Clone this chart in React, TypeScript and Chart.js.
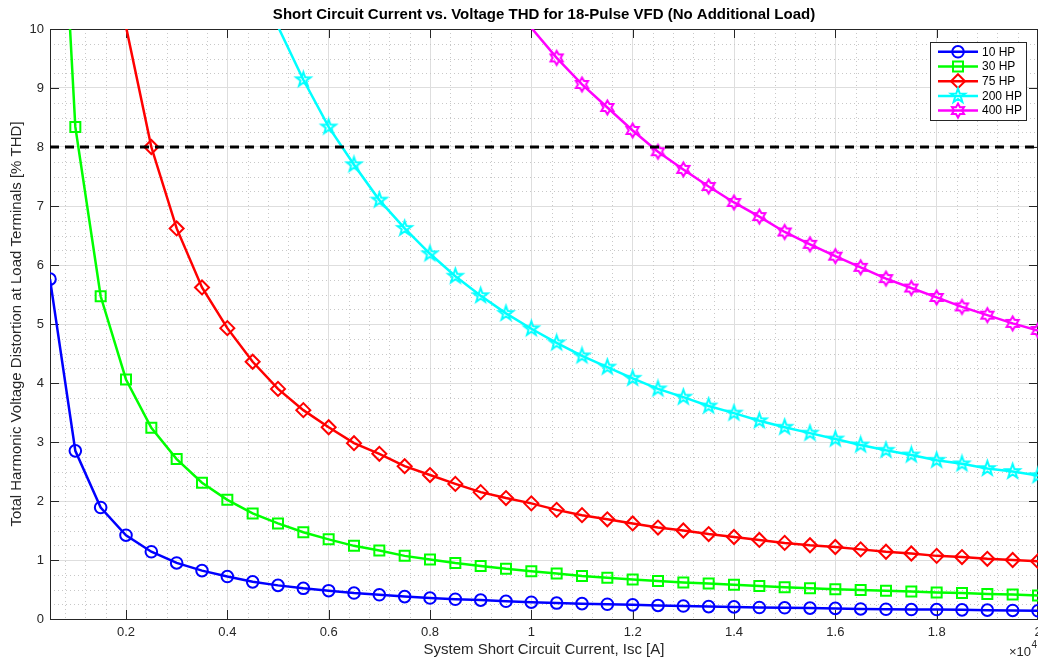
import React, { useEffect, useRef } from 'react';
import { Chart, registerables } from 'chart.js';

Chart.register(...registerables);

// ---------- data ----------
const ISC = [
  500, 1000, 1500, 2000, 2500, 3000, 3500, 4000, 4500, 5000,
  5500, 6000, 6500, 7000, 7500, 8000, 8500, 9000, 9500, 10000,
  10500, 11000, 11500, 12000, 12500, 13000, 13500, 14000, 14500, 15000,
  15500, 16000, 16500, 17000, 17500, 18000, 18500, 19000, 19500, 20000,
];

// each series is aligned to the END of ISC (its first value sits at ISC[ISC.length - n])
const THD_10HP = [
  5.76, 2.85, 1.89, 1.42, 1.14, 0.95, 0.82, 0.72, 0.63, 0.57,
  0.52, 0.48, 0.44, 0.41, 0.38, 0.355, 0.335, 0.32, 0.30, 0.285,
  0.27, 0.26, 0.25, 0.24, 0.23, 0.22, 0.21, 0.205, 0.195, 0.19,
  0.185, 0.18, 0.17, 0.165, 0.16, 0.16, 0.155, 0.15, 0.145, 0.14,
];
const THD_30HP = [
  16.3, 8.34, 5.47, 4.06, 3.24, 2.71, 2.31, 2.02, 1.79, 1.62,
  1.47, 1.35, 1.24, 1.16, 1.07, 1.01, 0.95, 0.90, 0.85, 0.81,
  0.77, 0.73, 0.70, 0.67, 0.645, 0.62, 0.60, 0.58, 0.56, 0.54,
  0.52, 0.505, 0.49, 0.48, 0.465, 0.45, 0.44, 0.425, 0.415, 0.40,
];
const THD_75HP = [
  10.04, 8.0, 6.62, 5.62, 4.93, 4.36, 3.9, 3.54, 3.25, 2.98,
  2.8, 2.59, 2.44, 2.29, 2.15, 2.05, 1.96, 1.85, 1.76, 1.69,
  1.62, 1.55, 1.50, 1.44, 1.39, 1.34, 1.29, 1.25, 1.22, 1.18,
  1.14, 1.11, 1.07, 1.05, 1.02, 1.00, 0.98,
];
const THD_200HP = [
  10.04, 9.14, 8.34, 7.70, 7.10, 6.62, 6.19, 5.81, 5.48, 5.18,
  4.92, 4.68, 4.46, 4.27, 4.08, 3.90, 3.76, 3.61, 3.49, 3.36,
  3.25, 3.15, 3.05, 2.95, 2.86, 2.78, 2.69, 2.63, 2.55, 2.50,
  2.43,
];
const THD_400HP = [
  10.02, 9.51, 9.06, 8.67, 8.28, 7.92, 7.62, 7.33, 7.06, 6.82,
  6.56, 6.35, 6.15, 5.96, 5.77, 5.61, 5.45, 5.29, 5.15, 5.01,
  4.89,
];
const SERIES_LABELS = ['10 HP', '30 HP', '75 HP', '200 HP', '400 HP'];
const SERIES_VALUES = [THD_10HP, THD_30HP, THD_75HP, THD_200HP, THD_400HP];

const THD_LIMIT = [8, 8];
const ISC_LIMIT = [500, 20000];

const X_TICKS = [2000, 4000, 6000, 8000, 10000, 12000, 14000, 16000, 18000, 20000];
const X_TICK_LABELS = ['0.2', '0.4', '0.6', '0.8', '1', '1.2', '1.4', '1.6', '1.8', '2'];
const Y_TICKS = [0, 1, 2, 3, 4, 5, 6, 7, 8, 9, 10];

const TITLE = 'Short Circuit Current vs. Voltage THD for 18-Pulse VFD (No Additional Load)';
const X_TITLE = 'System Short Circuit Current, Isc [A]';
const Y_TITLE = 'Total Harmonic Voltage Distortion at Load Terminals [% THD]';

// ---------- styling ----------
const FONT = '"Liberation Sans", Arial, Helvetica, sans-serif';
const INK = '#262626';
type Kind = 'circle' | 'square' | 'diamond' | 'pentagram' | 'hexagram';
const STYLES: { color: string; kind: Kind }[] = [
  { color: '#0000ff', kind: 'circle' },
  { color: '#00ff00', kind: 'square' },
  { color: '#ff0000', kind: 'diamond' },
  { color: '#00ffff', kind: 'pentagram' },
  { color: '#ff00ff', kind: 'hexagram' },
];

function starPath(ctx: CanvasRenderingContext2D, cx: number, cy: number, n: number, ro: number, ri: number) {
  for (let i = 0; i < 2 * n; i++) {
    const r = i % 2 === 0 ? ro : ri;
    const a = -Math.PI / 2 + (i * Math.PI) / n;
    const x = cx + r * Math.cos(a);
    const y = cy + r * Math.sin(a);
    if (i === 0) ctx.moveTo(x, y);
    else ctx.lineTo(x, y);
  }
  ctx.closePath();
}

function drawMarker(ctx: CanvasRenderingContext2D, kind: Kind, x: number, y: number, color: string) {
  ctx.save();
  ctx.strokeStyle = color;
  ctx.lineWidth = 2;
  ctx.setLineDash([]);
  ctx.beginPath();
  if (kind === 'circle') ctx.arc(x, y, 5.8, 0, Math.PI * 2);
  else if (kind === 'square') ctx.rect(x - 5, y - 5, 10, 10);
  else if (kind === 'diamond') {
    ctx.moveTo(x, y - 7);
    ctx.lineTo(x + 7, y);
    ctx.lineTo(x, y + 7);
    ctx.lineTo(x - 7, y);
    ctx.closePath();
  } else if (kind === 'pentagram') starPath(ctx, x, y, 5, 7.5, 3.0);
  else starPath(ctx, x, y, 6, 7, 4.0);
  ctx.stroke();
  ctx.restore();
}

function markerImage(kind: Kind, color: string) {
  const c = document.createElement('canvas');
  c.width = 21;
  c.height = 21;
  const g = c.getContext('2d')!;
  drawMarker(g, kind, 10.5, 10.5, color);
  return c;
}

function pairs(xs: number[], ys: number[]) {
  const off = xs.length - ys.length;
  return ys.map((y, i) => ({ x: xs[i + off], y }));
}

const matlabAxes = {
  id: 'matlabAxes',
  beforeDatasetsDraw(chart: any) {
    const { ctx, chartArea: a, scales } = chart;
    const xs = scales.x;
    const ys = scales.y;
    ctx.save();
    // minor grid
    ctx.strokeStyle = '#c8c8c8';
    ctx.lineWidth = 1;
    ctx.setLineDash([1, 3]);
    ctx.beginPath();
    for (let v = 400; v < 20000; v += 400) {
      if (v < xs.min || v % 2000 === 0) continue;
      const px = Math.round(xs.getPixelForValue(v)) + 0.5;
      ctx.moveTo(px, a.top);
      ctx.lineTo(px, a.bottom);
    }
    for (let k = 1; k < 40; k++) {
      if (k % 4 === 0) continue;
      const py = Math.round(ys.getPixelForValue(k * 0.25)) + 0.5;
      ctx.moveTo(a.left, py);
      ctx.lineTo(a.right, py);
    }
    ctx.stroke();
    ctx.setLineDash([]);
    // box
    ctx.strokeStyle = INK;
    ctx.lineWidth = 1;
    ctx.strokeRect(Math.round(a.left) + 0.5, Math.round(a.top) + 0.5, Math.round(a.right - a.left) - 1, Math.round(a.bottom - a.top));
    // inward ticks
    ctx.beginPath();
    const tl = 9;
    X_TICKS.forEach((v) => {
      const px = Math.round(xs.getPixelForValue(v)) + 0.5;
      ctx.moveTo(px, a.bottom);
      ctx.lineTo(px, a.bottom - tl);
      ctx.moveTo(px, a.top);
      ctx.lineTo(px, a.top + tl);
    });
    Y_TICKS.forEach((v) => {
      const py = Math.round(ys.getPixelForValue(v)) + 0.5;
      ctx.moveTo(a.left, py);
      ctx.lineTo(a.left + tl, py);
      ctx.moveTo(a.right, py);
      ctx.lineTo(a.right - tl, py);
    });
    ctx.stroke();
    ctx.restore();
  },
  afterDraw(chart: any) {
    const { ctx } = chart;
    ctx.save();
    // legend
    const bx = 930.5, by = 42.5, bw = 96, bh = 78;
    ctx.fillStyle = '#ffffff';
    ctx.fillRect(bx, by, bw, bh);
    ctx.strokeStyle = INK;
    ctx.lineWidth = 1;
    ctx.strokeRect(bx, by, bw, bh);
    SERIES_LABELS.forEach((label, i) => {
      const y = 51.8 + i * 14.7;
      const st = STYLES[i];
      ctx.strokeStyle = st.color;
      ctx.lineWidth = 2.5;
      ctx.beginPath();
      ctx.moveTo(938, y);
      ctx.lineTo(978, y);
      ctx.stroke();
      drawMarker(ctx, st.kind, 958, y, st.color);
      ctx.fillStyle = '#000';
      ctx.font = `12px ${FONT}`;
      ctx.textAlign = 'left';
      ctx.textBaseline = 'middle';
      ctx.fillText(label, 982, y + 0.5);
    });
    // exponent label
    ctx.fillStyle = INK;
    ctx.font = `13px ${FONT}`;
    ctx.textAlign = 'right';
    ctx.textBaseline = 'middle';
    ctx.fillText('\u00d710', 1031, 652);
    ctx.font = `10px ${FONT}`;
    ctx.textAlign = 'left';
    ctx.fillText('4', 1031.5, 645.5);
    ctx.restore();
  },
};

export default function App() {
  const ref = useRef<HTMLCanvasElement>(null);

  useEffect(() => {
    const canvas = ref.current!;
    const radius = [5.8, 7.07, 7, 7, 7];
    const pointStyles: any[] = [
      'circle',
      'rect',
      'rectRot',
      markerImage('pentagram', STYLES[3].color),
      markerImage('hexagram', STYLES[4].color),
    ];
    const datasets: any[] = [
      {
        label: '8% THD limit',
        data: pairs(ISC_LIMIT, THD_LIMIT),
        borderColor: '#000000',
        borderWidth: 3,
        borderDash: [9, 6],
        pointRadius: 0,
        order: 0,
      },
      ...SERIES_LABELS.map((label, i) => ({
        label,
        data: pairs(ISC, SERIES_VALUES[i]),
        borderColor: STYLES[i].color,
        borderWidth: 2.5,
        pointStyle: pointStyles[i],
        pointRadius: (c: any) => (c.raw && c.raw.y > 10 ? 0 : radius[i]),
        pointHoverRadius: 0,
        pointBorderWidth: 2,
        pointBorderColor: STYLES[i].color,
        pointBackgroundColor: 'rgba(0,0,0,0)',
        order: 5 - i,
      })),
    ];

    const chart = new Chart(canvas, {
      type: 'line',
      data: { datasets },
      plugins: [matlabAxes],
      options: {
        responsive: false,
        animation: false,
        devicePixelRatio: 1,
        events: [],
        layout: { padding: 0, autoPadding: false },
        plugins: {
          legend: { display: false },
          tooltip: { enabled: false },
          title: {
            display: true,
            fullSize: false,
            text: TITLE,
            color: '#000000',
            font: { family: FONT, size: 15, weight: 'bold' },
            padding: { top: 6, bottom: 5 },
          },
        },
        scales: {
          x: {
            type: 'linear',
            min: 500,
            max: 20000,
            afterBuildTicks: (s: any) => {
              s.ticks = X_TICKS.map((v) => ({ value: v }));
            },
            afterFit: (s: any) => {
              s.height = 40;
              s.paddingLeft = 0;
              s.paddingRight = 0;
            },
            ticks: {
              autoSkip: false,
              maxRotation: 0,
              padding: 6,
              color: INK,
              font: { family: FONT, size: 13 },
              callback: (v: any) => {
                const idx = X_TICKS.indexOf(Number(v));
                return idx >= 0 ? X_TICK_LABELS[idx] : '';
              },
            },
            grid: { color: '#dedede', lineWidth: 1, drawTicks: false },
            border: { display: false },
            title: {
              display: true,
              text: X_TITLE,
              color: INK,
              font: { family: FONT, size: 15 },
              padding: { top: 0, bottom: 0 },
            },
          },
          y: {
            type: 'linear',
            min: 0,
            max: 10,
            afterBuildTicks: (s: any) => {
              s.ticks = Y_TICKS.map((v) => ({ value: v }));
            },
            afterFit: (s: any) => {
              s.width = 50;
              s.paddingTop = 0;
              s.paddingBottom = 0;
            },
            ticks: {
              padding: 6,
              color: INK,
              font: { family: FONT, size: 13 },
              callback: (v: any) => String(v),
            },
            grid: { color: '#dedede', lineWidth: 1, drawTicks: false },
            border: { display: false },
            title: {
              display: true,
              text: Y_TITLE,
              color: INK,
              font: { family: FONT, size: 15 },
              padding: { top: 8, bottom: 0 },
            },
          },
        },
      } as any,
    });
    return () => chart.destroy();
  }, []);

  return (
    <div style={{ position: 'fixed', left: 0, top: 0, width: 1038, height: 659, background: '#ffffff' }}>
      <canvas ref={ref} width={1038} height={659} style={{ display: 'block', width: 1038, height: 659 }} />
    </div>
  );
}
